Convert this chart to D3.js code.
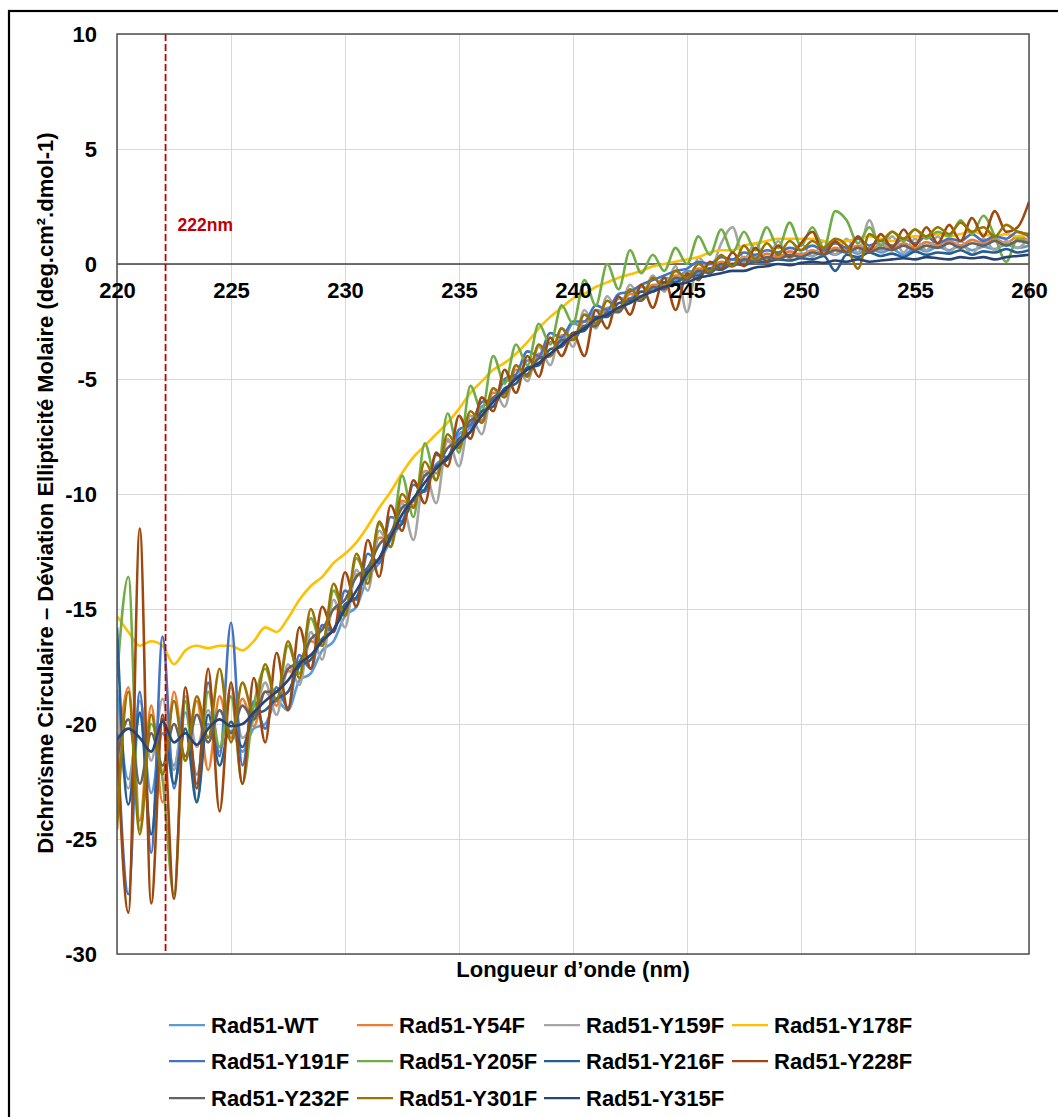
<!DOCTYPE html>
<html>
<head>
<meta charset="utf-8">
<script src="https://cdn.jsdelivr.net/npm/d3@7"></script>
<style>
  body { margin: 0; background: #fff; }
  text { font-family: Arial, "Liberation Sans", sans-serif; font-weight: bold; }
</style>
</head>
<body>
<script>
// wavelength grid (nm), one reading every 0.5 nm
const wavelengths = d3.range(0, 81).map(i => 220 + i * 0.5);

const xTicks = [220, 225, 230, 235, 240, 245, 250, 255, 260];
const yTicks = [10, 5, 0, -5, -10, -15, -20, -25, -30];
const markerNm = 222.13;
const markerLabel = '222nm';

const seriesNames = ['Rad51-WT', 'Rad51-Y54F', 'Rad51-Y159F', 'Rad51-Y178F',
  'Rad51-Y191F', 'Rad51-Y205F', 'Rad51-Y216F', 'Rad51-Y228F',
  'Rad51-Y232F', 'Rad51-Y301F', 'Rad51-Y315F'];

// values (deg.cm2.dmol-1)
const wt = [
  -18.5,-22.4,-19.6,-23.0,-20.4,-21.8,-19.5,-22.2,-20.0,-21.0,-20.3,-21.2,-20.2,
  -20.0,-19.0,-19.4,-18.1,-17.8,-16.8,-16.4,-15.3,-14.9,-13.6,-13.0,-12.0,-11.2,-10.2,-9.8,-8.7,-8.4,-7.4,
  -7.1,-6.2,-6.0,-5.1,-5.0,-4.2,-4.1,-3.4,-3.4,-2.6,-2.7,-2.0,-2.1,-1.5,-1.5,-1.0,-1.1,-0.6,-0.7,-0.3,
  -0.4,0.0,-0.1,0.2,0.1,0.3,0.2,0.4,0.3,0.45,
  0.35,0.55,0.4,0.6,0.45,0.7,0.5,0.65,0.4,0.7,0.55,0.75,0.6,0.8,0.6,0.75,0.65,0.85,0.7,0.8];
const y54f = [
  -22.0,-18.4,-24.2,-19.2,-23.4,-18.6,-21.6,-19.0,-22.0,-18.8,-20.6,-18.9,-20.1,
  -18.6,-19.2,-17.7,-17.8,-16.4,-16.6,-15.0,-15.0,-13.5,-13.5,-11.9,-11.9,-10.3,-10.5,-9.0,-9.1,-7.7,-7.9,
  -6.6,-6.8,-5.6,-5.7,-4.6,-4.8,-3.9,-4.0,-3.1,-3.2,-2.5,-2.5,-1.9,-1.9,-1.3,-1.4,-0.9,-0.9,-0.5,-0.6,
  -0.2,-0.2,0.1,0.0,0.3,0.2,0.45,0.3,0.55,0.4,
  0.6,0.45,0.7,0.55,0.8,0.6,0.85,0.7,0.9,0.7,0.95,0.8,1.0,0.8,1.05,0.9,1.1,0.9,1.2,1.0];
const y159f = [
  -19.5,-22.8,-19.0,-21.6,-18.9,-22.0,-18.8,-21.0,-19.4,-21.2,-18.4,-20.6,-19.8,
  -18.2,-19.6,-17.4,-18.3,-16.0,-17.2,-14.6,-15.8,-13.3,-14.2,-11.6,-12.3,-10.4,-12.0,-9.0,-10.4,-7.6,-8.8,
  -6.6,-7.4,-5.4,-6.2,-4.4,-5.1,-3.6,-4.4,-2.8,-3.6,-2.0,-2.8,-1.4,-2.1,-0.9,-1.5,-0.5,-1.2,-0.1,-2.1,
  0.3,-0.3,0.9,1.6,0.2,0.9,0.1,1.0,0.2,0.9,
  0.3,1.0,0.4,1.1,0.5,1.9,0.6,1.2,0.5,1.1,0.6,1.2,0.5,1.0,0.4,1.1,0.6,1.0,0.7,1.2];
const y178f = [
  -15.3,-16.0,-16.6,-16.4,-16.6,-17.4,-16.8,-16.6,-16.7,-16.6,-16.6,-16.8,-16.4,
  -15.8,-16.0,-15.4,-14.6,-14.0,-13.6,-13.0,-12.6,-12.1,-11.4,-10.6,-9.9,-9.1,-8.4,-7.9,-7.4,-6.9,-6.3,
  -5.6,-5.1,-4.6,-4.3,-3.9,-3.4,-2.8,-2.3,-1.9,-1.5,-1.3,-1.0,-0.8,-0.6,-0.45,-0.3,-0.1,0.0,0.1,0.2,
  0.3,0.5,0.6,0.6,0.8,0.9,1.0,1.1,1.1,1.1,
  1.1,1.0,0.9,1.0,1.1,1.2,1.1,1.0,1.1,1.2,1.2,1.3,1.2,1.3,1.4,1.3,1.2,1.3,1.2,1.3];
const y191f = [
  -20.4,-27.4,-18.6,-25.6,-16.2,-22.8,-19.0,-22.6,-18.2,-21.4,-15.6,-21.8,-19.0,
  -20.2,-18.4,-19.3,-17.0,-17.6,-15.7,-16.0,-14.2,-14.6,-12.6,-13.0,-11.0,-11.2,-9.6,-9.9,-8.3,-8.4,-7.2,
  -7.0,-6.0,-5.9,-5.0,-4.8,-3.8,-4.0,-3.0,-3.2,-2.5,-2.5,-1.8,-2.0,-1.3,-1.2,-0.9,-0.7,-0.5,-0.3,-0.2,
  0.1,0.0,0.3,0.2,0.5,0.4,0.6,0.5,0.7,0.6,
  0.8,0.6,0.9,0.7,1.1,0.8,1.0,0.8,1.1,0.9,1.2,0.9,1.1,1.0,1.3,1.0,1.2,1.1,1.4,1.2];
const y205f = [
  -18.0,-13.6,-24.6,-20.0,-22.4,-27.4,-19.0,-23.4,-18.6,-21.0,-18.8,-22.6,-19.2,
  -17.6,-19.0,-16.6,-17.8,-15.4,-16.6,-14.2,-15.2,-12.8,-13.6,-11.3,-12.0,-9.2,-11.0,-7.8,-9.4,-6.5,-8.2,
  -5.3,-6.4,-4.0,-5.2,-3.5,-4.4,-2.6,-3.5,-1.8,-2.6,-0.7,-1.8,0.0,-1.1,0.6,-0.4,0.4,-0.3,0.7,0.0,
  1.2,0.4,1.5,0.5,1.4,0.6,1.6,0.7,1.8,0.8,
  1.6,0.7,2.3,1.9,0.9,1.6,0.8,1.4,1.0,1.5,1.1,1.4,1.2,1.9,1.3,2.1,1.2,0.1,1.1,0.9];
const y216f = [
  -15.8,-23.5,-19.5,-24.8,-19.8,-22.6,-20.2,-23.4,-19.6,-21.8,-19.9,-21.0,-19.6,
  -19.4,-18.9,-18.6,-17.5,-17.2,-16.3,-15.9,-14.8,-14.5,-13.2,-12.8,-11.7,-11.3,-10.2,-9.8,-8.8,-8.5,-7.6,
  -7.3,-6.4,-6.2,-5.4,-5.2,-4.5,-4.4,-3.7,-3.6,-3.0,-2.9,-2.3,-2.3,-1.7,-1.6,-1.2,-1.2,-0.8,-0.8,-0.5,
  -0.5,-0.2,-0.25,0.0,-0.05,0.1,0.1,0.2,0.15,0.25,
  0.2,0.35,-0.3,0.4,0.3,0.5,0.35,0.45,0.3,0.55,0.4,0.5,0.45,0.6,0.4,0.55,0.5,0.65,0.5,0.6];
const y228f = [
  -20.5,-28.2,-11.5,-27.8,-19.6,-27.6,-18.4,-22.8,-17.6,-23.8,-18.2,-22.6,-18.0,
  -20.8,-16.9,-19.4,-15.8,-17.6,-14.9,-16.0,-13.4,-14.9,-12.0,-13.6,-10.5,-11.6,-9.4,-10.4,-8.2,-8.8,-6.6,
  -7.6,-5.8,-6.4,-4.6,-5.6,-4.0,-4.9,-3.2,-4.0,-3.0,-4.0,-2.0,-2.8,-1.4,-2.2,-0.9,-1.9,-0.6,-2.0,-0.4,
  -0.7,0.1,-0.2,0.5,-0.1,0.7,0.1,0.8,0.3,0.9,
  1.4,0.4,1.0,0.5,1.2,0.6,1.3,0.7,1.5,0.8,1.6,0.9,1.7,1.0,2.0,1.2,2.3,1.4,1.6,2.7];
const y232f = [
  -21.5,-19.8,-22.6,-20.4,-21.8,-20.0,-21.4,-19.6,-20.8,-19.4,-20.4,-19.2,-19.8,
  -18.6,-18.6,-17.6,-17.3,-16.3,-15.9,-15.0,-14.6,-13.6,-13.2,-12.2,-11.7,-10.6,-10.3,-9.2,-8.9,-8.0,-7.7,
  -6.8,-6.6,-5.8,-5.6,-4.9,-4.8,-4.1,-4.0,-3.3,-3.3,-2.7,-2.7,-2.1,-2.1,-1.5,-1.6,-1.0,-1.1,-0.6,-0.7,
  -0.3,-0.4,0.0,-0.1,0.2,0.1,0.3,0.2,0.4,0.3,
  0.5,0.4,0.6,0.5,0.7,0.5,0.7,0.6,0.8,0.6,0.8,0.7,0.9,0.7,0.9,0.8,1.0,0.8,1.0,0.9];
const y301f = [
  -24.6,-18.6,-24.8,-19.6,-22.2,-19.0,-21.6,-18.8,-20.6,-17.6,-20.8,-18.2,-19.6,
  -17.4,-19.0,-16.4,-18.0,-15.0,-16.6,-13.9,-15.3,-12.6,-13.9,-11.2,-12.3,-10.0,-10.6,-8.6,-9.4,-7.4,-8.0,
  -6.4,-6.9,-5.4,-5.8,-4.4,-4.9,-3.5,-4.0,-2.8,-3.3,-2.2,-2.6,-1.6,-2.0,-1.1,-1.5,-0.6,-1.0,-0.3,-0.6,
  0.0,-0.3,0.4,-0.1,0.8,0.2,0.9,0.4,1.0,0.6,
  1.0,0.7,1.1,0.8,-0.2,1.3,1.0,1.4,1.1,1.5,1.2,1.6,1.3,1.8,1.4,1.6,1.2,1.7,1.4,1.3];
const y315f = [
  -20.7,-20.2,-20.6,-21.2,-19.9,-20.8,-20.4,-20.9,-20.2,-19.8,-20.1,-20.0,-19.5,
  -19.0,-18.6,-18.1,-17.4,-17.0,-16.4,-15.9,-15.0,-14.2,-13.4,-12.8,-11.9,-10.9,-10.2,-9.5,-8.9,-8.4,-7.8,
  -7.3,-6.6,-6.0,-5.5,-5.0,-4.6,-4.3,-3.9,-3.5,-3.1,-2.8,-2.4,-2.2,-1.9,-1.7,-1.4,-1.2,-1.0,-0.9,-0.8,
  -0.6,-0.5,-0.4,-0.3,-0.3,-0.15,-0.1,0.0,-0.05,0.05,
  0.1,0.05,0.15,0.1,0.2,0.1,0.15,0.2,0.25,0.2,0.3,0.25,0.2,0.3,0.25,0.3,0.2,0.3,0.35,0.4];

const seriesValues = [wt, y54f, y159f, y178f, y191f, y205f, y216f, y228f, y232f, y301f, y315f];

const seriesColors = ['#5B9BD5', '#ED7D31', '#A5A5A5', '#FFC000', '#4472C4', '#70AD47',
  '#255E91', '#9E480E', '#636363', '#997300', '#264478'];

const chartConfig = {
    w: 1058,
    h: 1117,
    left: 117,
    right: 1029,
    top: 34,
    bottom: 954
};

(function d3Draw() {

    const c = chartConfig;

    const svg = d3.select('body')
        .append('svg')
        .attr('width', c.w)
        .attr('height', c.h);

    // outer frame (only left and top edges fall inside the picture)
    svg.append('rect')
        .attr('x', 9).attr('y', 11)
        .attr('width', 1100).attr('height', 1200)
        .attr('fill', 'none')
        .attr('stroke', '#000')
        .attr('stroke-width', 2.2);

    // SCALES

    const xScale = d3.scaleLinear()
        .domain([220, 260])
        .range([c.left, c.right]);

    const yScale = d3.scaleLinear()
        .domain([-30, 10])
        .range([c.bottom, c.top]);

    // GRID

    svg.append('g')
        .attr('transform', 'translate(0,' + c.bottom + ')')
        .call(d3.axisBottom(xScale).tickValues(xTicks).tickSize(-(c.bottom - c.top)).tickFormat(''))
        .call(g => g.select('.domain').remove())
        .selectAll('line').attr('stroke', '#d9d9d9').attr('stroke-width', 1);

    svg.append('g')
        .attr('transform', 'translate(' + c.left + ',0)')
        .call(d3.axisLeft(yScale).tickValues(yTicks).tickSize(-(c.right - c.left)).tickFormat(''))
        .call(g => g.select('.domain').remove())
        .selectAll('line').attr('stroke', '#d9d9d9').attr('stroke-width', 1);

    // zero line
    svg.append('line')
        .attr('x1', c.left).attr('x2', c.right)
        .attr('y1', yScale(0)).attr('y2', yScale(0))
        .attr('stroke', '#404040')
        .attr('stroke-width', 1.3);

    // LINES

    svg.append('clipPath').attr('id', 'plotClip')
        .append('rect')
        .attr('x', c.left).attr('y', c.top)
        .attr('width', c.right - c.left).attr('height', c.bottom - c.top);

    const line = d3.line()
        .x((d, i) => xScale(wavelengths[i]))
        .y(d => yScale(d))
        .curve(d3.curveMonotoneX);

    svg.append('g')
        .attr('clip-path', 'url(#plotClip)')
        .selectAll('path')
        .data(seriesValues)
        .enter()
        .append('path')
        .attr('d', line)
        .attr('fill', 'none')
        .attr('stroke', (d, i) => seriesColors[i])
        .attr('stroke-width', 2.6)
        .attr('stroke-linejoin', 'round');

    // 222 nm marker
    svg.append('line')
        .attr('x1', xScale(markerNm)).attr('x2', xScale(markerNm))
        .attr('y1', c.top).attr('y2', c.bottom)
        .attr('stroke', '#C00000')
        .attr('stroke-width', 1.8)
        .attr('stroke-dasharray', '7,3');

    svg.append('text')
        .text(markerLabel)
        .attr('x', xScale(markerNm) + 12)
        .attr('y', 231)
        .attr('font-size', '17.5px')
        .attr('fill', '#C00000');

    // plot border
    svg.append('rect')
        .attr('x', c.left).attr('y', c.top)
        .attr('width', c.right - c.left).attr('height', c.bottom - c.top)
        .attr('fill', 'none')
        .attr('stroke', '#505050')
        .attr('stroke-width', 1.5);

    // AXIS

    const xAxis = svg.append('g')
        .attr('transform', 'translate(0,' + yScale(0) + ')')
        .call(d3.axisBottom(xScale).tickValues(xTicks).tickSize(0).tickPadding(18).tickFormat(d => String(d)));
    xAxis.select('.domain').remove();
    xAxis.selectAll('text')
        .attr('font-size', '22px')
        .attr('font-family', 'Arial, "Liberation Sans", sans-serif')
        .attr('fill', '#000');

    const yAxis = svg.append('g')
        .attr('transform', 'translate(' + c.left + ',0)')
        .call(d3.axisLeft(yScale).tickValues(yTicks).tickSize(0).tickPadding(20).tickFormat(d => String(d)));
    yAxis.select('.domain').remove();
    yAxis.selectAll('text')
        .attr('font-size', '22px')
        .attr('font-family', 'Arial, "Liberation Sans", sans-serif')
        .attr('fill', '#000');

    // TITLES

    svg.append('text')
        .text('Longueur d\u2019onde (nm)')
        .attr('x', (c.left + c.right) / 2)
        .attr('y', 977)
        .attr('text-anchor', 'middle')
        .attr('font-size', '22px');

    svg.append('text')
        .text('Dichro\u00efsme Circulaire \u2013 D\u00e9viation Ellipticit\u00e9 Molaire (deg.cm\u00b2.dmol-1)')
        .attr('transform', 'translate(53,493) rotate(-90)')
        .attr('text-anchor', 'middle')
        .attr('font-size', '22px');

    // LEGEND

    const legendCols = [169, 357, 544, 732];
    const legendRows = [1025, 1061, 1098];

    const items = svg.append('g')
        .selectAll('g')
        .data(seriesNames)
        .enter()
        .append('g')
        .attr('transform', (d, i) => 'translate(' + legendCols[i % 4] + ',' + legendRows[Math.floor(i / 4)] + ')');

    items.append('line')
        .attr('x1', 0).attr('x2', 36)
        .attr('stroke', (d, i) => seriesColors[i])
        .attr('stroke-width', 2.25);

    items.append('text')
        .text(d => d)
        .attr('x', 42)
        .attr('y', 7.5)
        .attr('font-size', '22px')
        .attr('fill', '#000');

})();
</script>
</body>
</html>
